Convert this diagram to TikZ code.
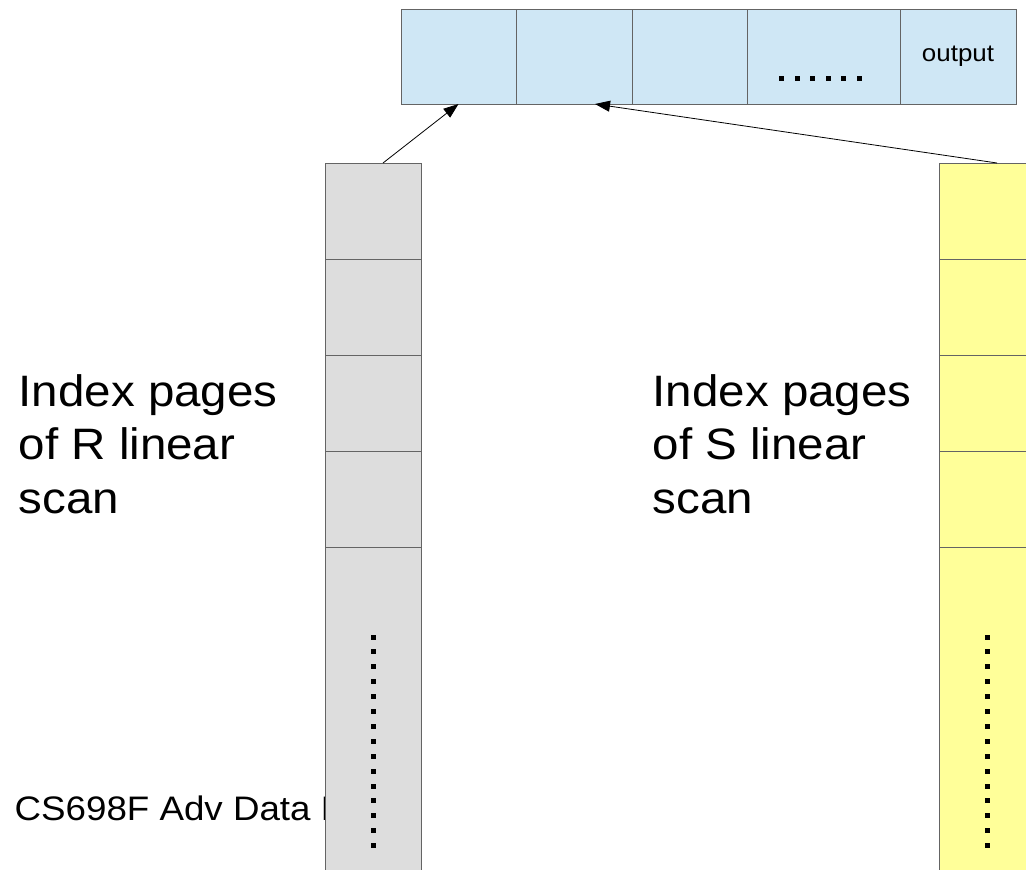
\documentclass[tikz,border=0pt]{standalone}
\usepackage{fontspec}
\setmainfont[FakeStretch=1.08]{Liberation Sans}
\usetikzlibrary{arrows.meta, positioning, calc}
\definecolor{outblue}{RGB}{207, 231, 245}
\definecolor{pagegrey}{RGB}{221, 221, 221}
\definecolor{pageyellow}{RGB}{255, 255, 153}
\definecolor{celledge}{RGB}{100, 100, 100}

\begin{document}
\begin{tikzpicture}[x=1pt, y=-1pt,
    cell/.style={draw=celledge, line width=1pt, inner sep=0pt, outer sep=0pt, anchor=north west},
    page/.style={cell, minimum width=96pt, minimum height=96pt},
    scanlabel/.style={align=left, anchor=north west, inner sep=0pt, font=\fontsize{44}{53.5}\selectfont},
    link/.style={line width=0.8pt, -{Triangle[length=15pt, width=11pt]}}]
    \clip (0,0) rectangle (1026,870);

    % Footer (partly hidden by the R column)
    \node[anchor=base west, inner sep=0pt, font=\fontsize{34}{40}\selectfont] (footer) at (14.5,820) {CS698F Adv Data M};

    % Output buffer
    \node[cell, fill=outblue, minimum width=115pt, minimum height=95pt] (o1) at (401,9) {};
    \node[cell, fill=outblue, minimum width=116pt, minimum height=95pt, right=0pt of o1] (o2) {};
    \node[cell, fill=outblue, minimum width=115pt, minimum height=95pt, right=0pt of o2] (o3) {};
    \node[cell, fill=outblue, minimum width=153pt, minimum height=95pt, right=0pt of o3] (o4) {};
    \node[cell, fill=outblue, minimum width=116pt, minimum height=95pt, right=0pt of o4, font=\fontsize{24}{28}\selectfont] (o5) {output};
    \foreach \i in {0,...,5}
        \fill ($(o4.south west)+(32pt+\i*15.5pt,23pt)$) rectangle +(5pt,5pt);

    % Index pages of R
    \node[page, fill=pagegrey] (r1) at (325,163) {};
    \node[page, fill=pagegrey, below=0pt of r1] (r2) {};
    \node[page, fill=pagegrey, below=0pt of r2] (r3) {};
    \node[page, fill=pagegrey, below=0pt of r3] (r4) {};
    \node[page, fill=pagegrey, below=0pt of r4, minimum height=340pt] (r5) {};
    \foreach \i in {0,...,14}
        \fill ($(r5.north)+(-2.5pt,-87.5pt-\i*14.9pt)$) rectangle +(5pt,-5pt);

    % Index pages of S
    \node[page, fill=pageyellow] (s1) at (939,163) {};
    \node[page, fill=pageyellow, below=0pt of s1] (s2) {};
    \node[page, fill=pageyellow, below=0pt of s2] (s3) {};
    \node[page, fill=pageyellow, below=0pt of s3] (s4) {};
    \node[page, fill=pageyellow, below=0pt of s4, minimum height=340pt] (s5) {};
    \foreach \i in {0,...,14}
        \fill ($(s5.north)+(-2.5pt,-87.5pt-\i*14.9pt)$) rectangle +(5pt,-5pt);

    % Labels
    \node[scanlabel] (rlabel) at (18.5,374) {Index pages\\of R linear\\scan};
    \node[scanlabel] (slabel) at (652.5,374) {Index pages\\of S linear\\scan};

    % Joins into output
    \draw[link] ([xshift=10pt]r1.north) -- (o1.south);
    \draw[link] ([xshift=10pt]s1.north) -- ([xshift=21pt]o2.south);
\end{tikzpicture}
\end{document}
